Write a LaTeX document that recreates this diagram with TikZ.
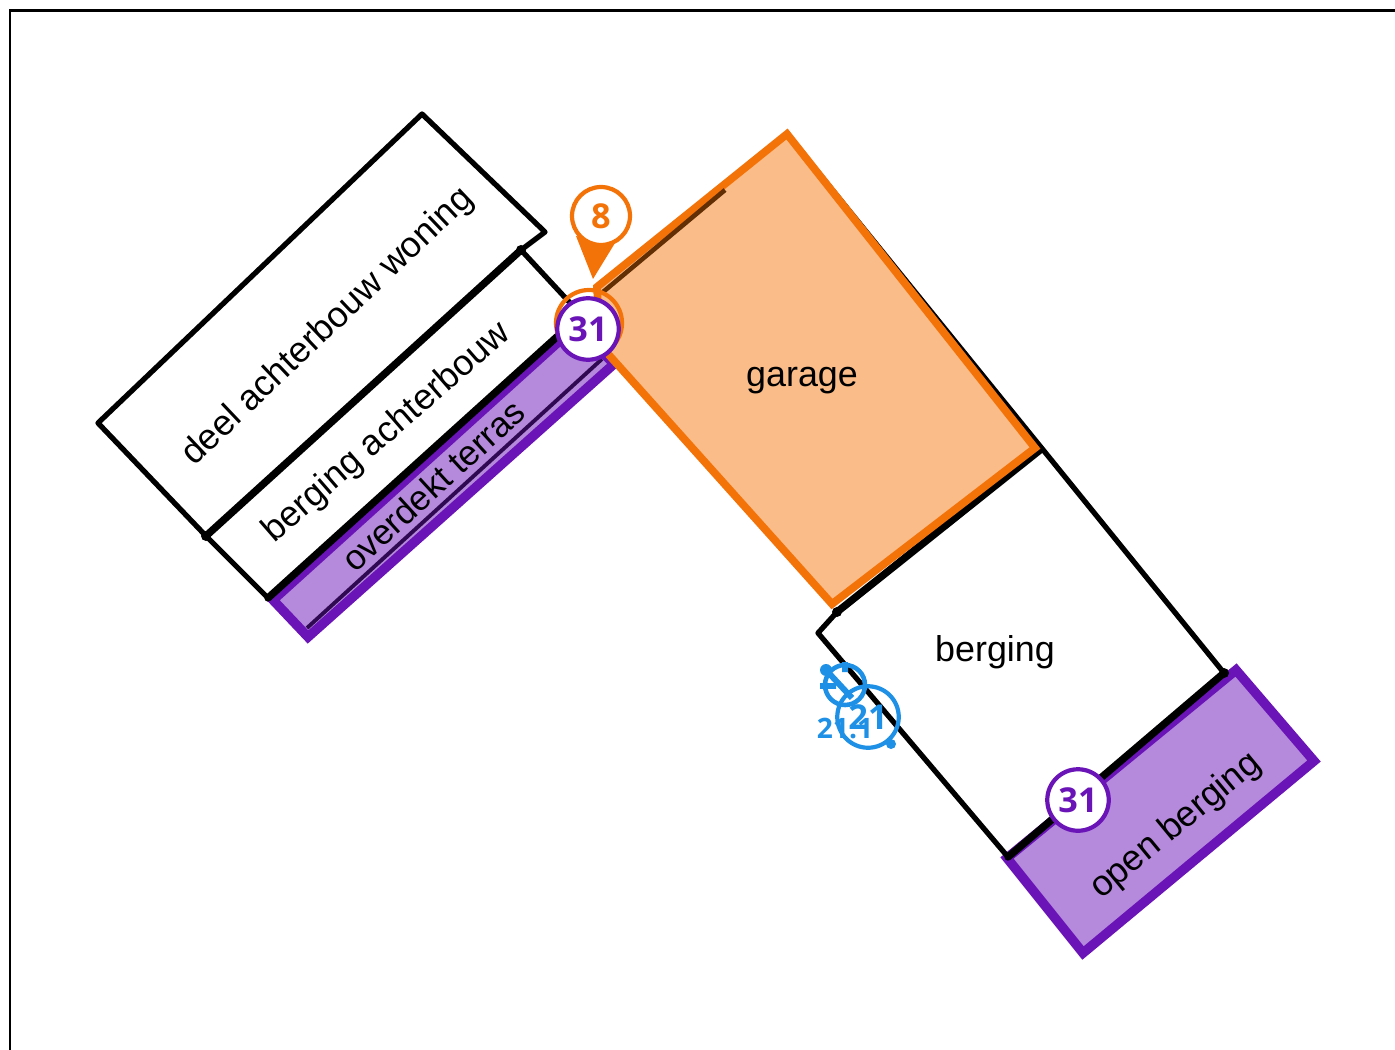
\documentclass[tikz,border=0pt]{standalone}
\usepackage{fontspec}
\setmainfont{Liberation Sans}
\setsansfont{Open Sans}
\usepackage{xcolor}
\usetikzlibrary{positioning}
\definecolor{plotorange}{HTML}{F47308}
\definecolor{plotpurple}{HTML}{6A14B8}
\definecolor{plotblue}{HTML}{1E90E6}
\tikzset{
  wall/.style={draw=black, line width=3pt, line join=round},
  heavywall/.style={draw=black, line width=4.2pt, line cap=round},
  terrace/.style={draw=plotpurple, fill=plotpurple!50!white, line width=5.4pt, line join=miter},
  garagefill/.style={draw=plotorange, fill=plotorange!48!white, line width=4.4pt, line join=miter},
  roomlabel/.style={font=\fontsize{20.4}{24}\selectfont, inner sep=0pt},
  badge/.style={circle, draw=#1, fill=white, line width=2.4pt, minimum size=32pt, inner sep=0pt, text=#1, font=\sffamily\bfseries\fontsize{19.5}{22}\selectfont},
}
\begin{document}
\begin{tikzpicture}[x=0.02cm, y=-0.02cm]
\useasboundingbox (0,0) rectangle (1395,1050);
\draw[line width=1.7pt] (10,1050) -- (10,11) -- (1395,11);

% terras and berging fills first
\draw[terrace] (273,600) -- (576,326) -- (614,364) -- (308,637) -- cycle;
\draw[black!55!plotpurple, line width=2.2pt] (307,628) -- (602,359);
\draw[terrace] (1236,670) -- (1314,761) -- (1083,953) -- (1007,858) -- cycle;

% walls
\draw[wall] (206,536) -- (98,423) -- (422,114) -- (545,232) -- (521,250) -- (572,305);
\draw[wall] (206,536) -- (268,598);
\draw[heavywall] (521,250) -- (206,536);
\draw[heavywall] (268,598) -- (560,334);
\draw[wall] (787,134) -- (1224,673) -- (1008,857) -- (818,633) -- (837,612);
\draw[heavywall] (1224,673) -- (1008,857);
\draw[heavywall] (837,612) -- (1040,450);
\fill (206,536) circle (5) (521,250) circle (5) (837,612) circle (5) (1224,673) circle (5);

% garage
\draw[garagefill] (787,134) -- (1035,448) -- (832,604) -- (600,345) -- (597,287) -- cycle;
\draw[black!60!plotorange, line width=2.6pt] (603,292) -- (725,190);

% labels
\node (deel) [roomlabel, rotate=43.5] at (328,327) {deel achterbouw woning};
\node (bergachter) [roomlabel, rotate=41] at (387,433) {berging achterbouw};
\node (terras) [roomlabel, font=\fontsize{20}{24}\selectfont, rotate=42.5] at (433,485) {overdekt terras};
\node (garage) [roomlabel] at (802,381) {garage};
\node (berging) [roomlabel] at (995,652) {berging};
\node (openberg) [roomlabel, rotate=39.5] at (1176,826) {open berging};

% orange marker
\draw[plotorange, line width=2.4pt] (589,323) circle (33);
\fill[plotorange] (576,236) -- (593,279) -- (615,243) -- cycle;
\node (mark8) [badge=plotorange, minimum size=33pt] at (601,216) {8};
\node (mark31a) [badge=plotpurple, minimum size=35pt] at (588,329) {31};
\node (mark31b) [badge=plotpurple, minimum size=35pt] at (1078,800) {31};

% blue marker
\draw[plotblue, line width=2.6pt] (845,685) circle (20);
\draw[plotblue, line width=3.4pt] (826,670) -- (852,698) (820,686) -- (836,686) (845,662) -- (845,672);
\fill[plotblue] (826,670) circle (6) (891,744) circle (5);
\node (mark21) [circle, draw=plotblue, line width=2.4pt, minimum size=35pt, inner sep=0pt, text=plotblue, font=\sffamily\bfseries\fontsize{19.5}{22}\selectfont] at (868,717) {21};
\node (mark211) [inner sep=0pt, text=plotblue, font=\sffamily\bfseries\fontsize{16}{20}\selectfont] at (845,729) {21.1};
\end{tikzpicture}
\end{document}
